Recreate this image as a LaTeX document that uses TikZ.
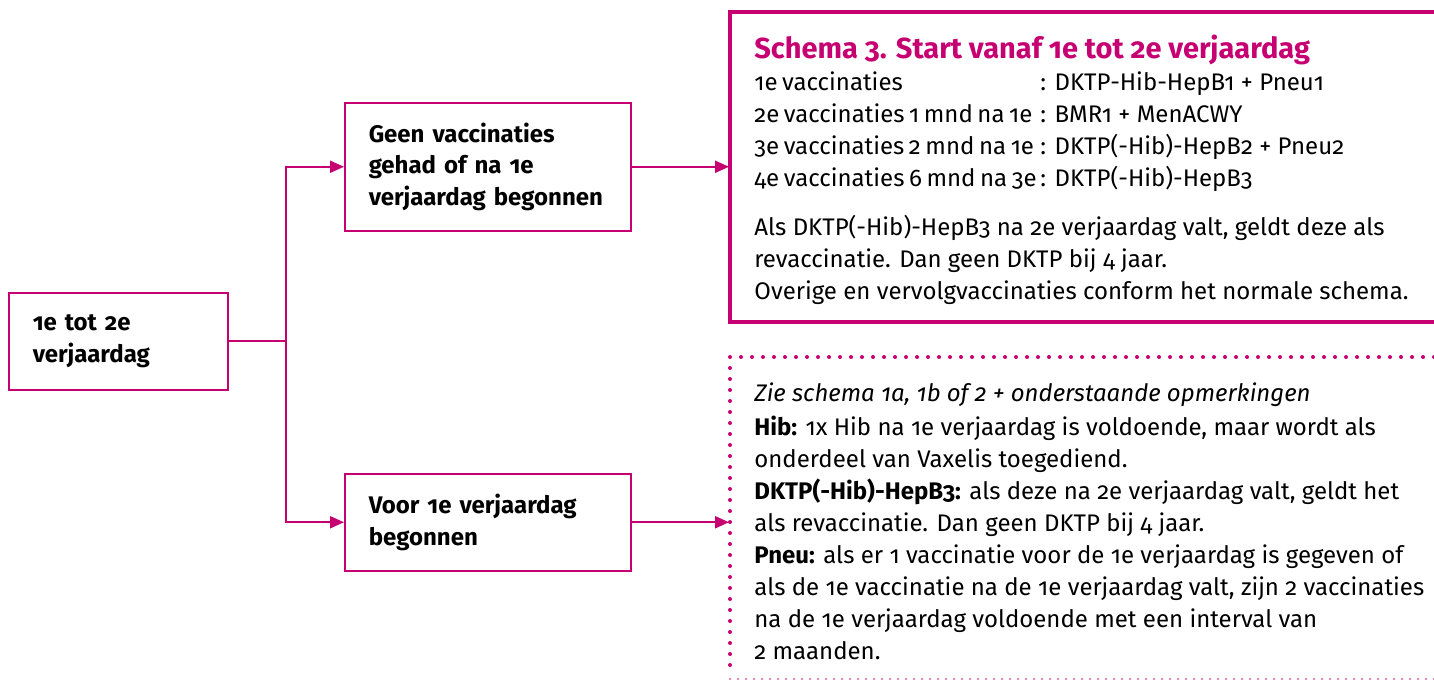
\documentclass[tikz,border=0pt]{standalone}
\usepackage{fontspec}
\setmainfont{Fira Sans}[Numbers=OldStyle]
\usetikzlibrary{calc}
\usetikzlibrary{arrows.meta}
\definecolor{robijn}{RGB}{199,0,114}
\newcommand{\regel}[2]{\makebox[143pt][l]{\spaceskip=2.3pt #1}: #2}

\begin{document}
\begin{tikzpicture} [x=0.5pt, y=-0.5pt,
  keuze/.style={draw=robijn, line width=0.75pt, anchor=north west, align=left, inner xsep=12pt, font=\fontsize{12}{15.75}\selectfont\bfseries},
  pijl/.style={draw=robijn, line width=1pt, -{Triangle[length=7pt,width=6pt]}},
  tekst/.style={anchor=north west, align=left, inner sep=0pt, font=\fontsize{12}{15.9}\selectfont}]
\useasboundingbox (0,0) rectangle (1434,682);

\node[keuze, text width=85.5pt, minimum height=48.5pt] (start) at (8,292) {1e tot 2e\\verjaardag};
\node[keuze, text width=119pt, minimum height=64pt] (geen) at (344,102) {Geen vaccinaties\\gehad of na 1e\\verjaardag begonnen};
\node[keuze, text width=119pt, minimum height=48.5pt] (voor) at (344,473) {Voor 1e verjaardag\\begonnen};

\draw[robijn, line width=1pt] (start.east) --++(28.5pt,0) coordinate (split);
\draw[pijl] (split) |- (geen.west);
\draw[pijl] (split) |- (voor.west);

% kaders rechts
\coordinate (rand) at (729,0);
\draw[robijn, line width=2pt] (1434,12) -- (730,12) -- (730,322) -- (1434,322);
\draw[robijn, line width=2pt, line cap=round, dash pattern=on 0pt off 5.5pt] (1434,357) -- (730,357) -- (730,672);
\draw[robijn, line width=0.9pt, line cap=round, dash pattern=on 0pt off 4pt] (730,679) -- (1434,679);

\foreach \k in {geen, voor} \draw[pijl] (\k.east) -- (\k.east -| rand);

\node[tekst] (schema) at (754,35) {{\color{robijn}\fontsize{14.5}{18}\selectfont\bfseries Schema 3. Start vanaf 1e tot 2e verjaardag}\\
\regel{1e vaccinaties}{DKTP-Hib-HepB1 + Pneu1}\\
\regel{2e vaccinaties 1 mnd na 1e}{BMR1 + MenACWY}\\
\regel{3e vaccinaties 2 mnd na 1e}{DKTP(-Hib)-HepB2 + Pneu2}\\
\regel{4e vaccinaties 6 mnd na 3e}{DKTP(-Hib)-HepB3}\\[9pt]
Als DKTP(-Hib)-HepB3 na 2e verjaardag valt, geldt deze als\\
revaccinatie. Dan geen DKTP bij 4 jaar.\\
Overige en vervolgvaccinaties conform het normale schema.};

\node[tekst, font=\fontsize{12}{16}\selectfont] (opm) at (754,382) {\textit{Zie schema 1a, 1b of 2 + onderstaande opmerkingen}\\[1pt]
\textbf{Hib:} 1x Hib na 1e verjaardag is voldoende, maar wordt als\\
onderdeel van Vaxelis toegediend.\\
\textbf{DKTP(-Hib)-HepB3:} als deze na 2e verjaardag valt, geldt het\\
als revaccinatie. Dan geen DKTP bij 4 jaar.\\
\textbf{Pneu:} als er 1 vaccinatie voor de 1e verjaardag is gegeven of\\
als de 1e vaccinatie na de 1e verjaardag valt, zijn 2 vaccinaties\\
na de 1e verjaardag voldoende met een interval van\\
2 maanden.};

\end{tikzpicture}
\end{document}
